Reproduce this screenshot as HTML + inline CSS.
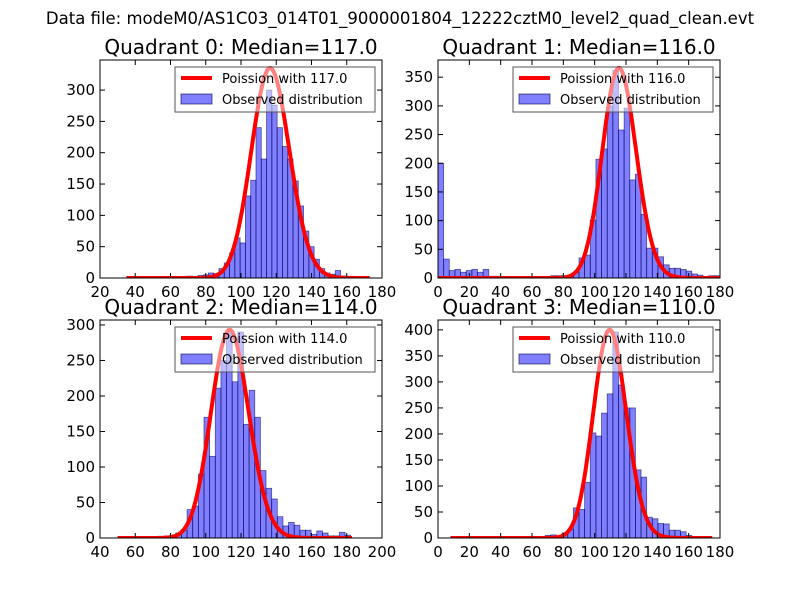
<!DOCTYPE html>
<html><head><meta charset="utf-8"><style>
body{margin:0;background:#fff}
svg text{font-family:"DejaVu Sans","Liberation Sans",sans-serif}
</style></head><body>
<svg id="fig" width="800" height="600" xmlns="http://www.w3.org/2000/svg">
<rect width="800" height="600" fill="#fff"/>
<text x="400" y="24" text-anchor="middle" font-size="16.5">Data file: modeM0/AS1C03_014T01_9000001804_12222cztM0_level2_quad_clean.evt</text>
</svg>
<script>
// ---- data ----
const q0Counts=[2,0,3,0,4,5,8,7,15,24,40,64,56,131,156,240,190,300,276,240,210,190,155,115,75,50,30,15,8,6,12,3];
const q1Counts=[200,33,13,15,10,13,15,10,15,3,3,1,1,0,2,1,0,0,0,0,4,4,4,5,10,35,40,101,207,225,300,362,258,296,171,181,111,52,52,37,23,17,17,15,12,7,5,1,4,4];
const q2Counts=[1,2,2,3,4,7,11,40,45,90,170,115,211,250,292,220,290,160,208,170,95,70,55,30,17,22,18,11,11,5,10,7,3,3,8,4];
const q3Counts=[5,6,2,10,17,58,55,107,202,196,240,277,396,294,250,250,131,117,40,37,28,27,15,15,12,5,2];
const binStart=[63.5,0,67,68.4];
const binWidth=[3,3.6,3.2,3.6];
const medians=[117,116,114,110];
const curvePeak=[335,366,293,400];
const curveRange=[[35,173],[0,180],[50,183],[8,175]];
const xTicks=[[20,40,60,80,100,120,140,160,180],[0,20,40,60,80,100,120,140,160,180],[40,60,80,100,120,140,160,180,200],[0,20,40,60,80,100,120,140,160,180]];
const yTicks=[[0,50,100,150,200,250,300],[0,50,100,150,200,250,300,350],[0,50,100,150,200,250,300],[0,50,100,150,200,250,300,350,400]];
const xLim=[[20,180],[0,180],[40,200],[0,180]];
const yMax=[348,380,307,419];
const allCounts=[q0Counts,q1Counts,q2Counts,q3Counts];
// ---- layout ----
const boxes=[[100,60,382,278],[438,60,720,278],[100,320,382,538],[438,320,720,538]];
const NS="http://www.w3.org/2000/svg";
const fig=document.getElementById('fig');
function mk(tag,attrs,parent){const e=document.createElementNS(NS,tag);for(const k in attrs)e.setAttribute(k,attrs[k]);(parent||fig).appendChild(e);return e;}
function lgam(z){const c=[76.18009172947146,-86.50532032941677,24.01409824083091,-1.231739572450155,0.1208650973866179e-2,-0.5395239384953e-5];let x=z,y=z,t=x+5.5;t-=(x+0.5)*Math.log(t);let s=1.000000000190015;for(let j=0;j<6;j++)s+=c[j]/++y;return -t+Math.log(2.5066282746310005*s/x);}
function pmf(k,l){return Math.exp(k*Math.log(l)-l-lgam(k+1));}
for(let p=0;p<4;p++){
  const [L,T,R,B]=boxes[p];
  const xs=v=>L+(v-xLim[p][0])/(xLim[p][1]-xLim[p][0])*(R-L);
  const ys=v=>B-v/yMax[p]*(B-T);
  const g=mk('g',{});
  
  
  const clipId='clip'+p;
  const cp=mk('clipPath',{id:clipId},g);mk('rect',{x:L,y:T,width:R-L,height:B-T},cp);
  const plot=mk('g',{'clip-path':'url(#'+clipId+')'},g);
  const cnt=allCounts[p];
  for(let i=0;i<cnt.length;i++){
    const x0=xs(binStart[p]+i*binWidth[p]),x1=xs(binStart[p]+(i+1)*binWidth[p]);
    const r=mk('rect',{x:x0,y:ys(cnt[i]),width:x1-x0,height:B-ys(cnt[i]),fill:'rgba(0,0,255,0.5)',stroke:'rgba(0,0,80,0.6)','stroke-width':0.8},plot);
    
    
  }
  const lam=medians[p];const sc=curvePeak[p]/pmf(Math.floor(lam),lam);
  let d='';
  for(let k=curveRange[p][0];k<=curveRange[p][1];k++){d+=(d?'L':'M')+xs(k).toFixed(1)+','+ys(pmf(k,lam)*sc).toFixed(1);}
  const curve=mk('path',{d:d,fill:'none',stroke:'#ff0000','stroke-width':4,'stroke-linejoin':'round'},plot);
  
  
  mk('rect',{x:L,y:T,width:R-L,height:B-T,fill:'none',stroke:'#000','stroke-width':1},g);
  for(const t of xTicks[p]){const x=xs(t);
    mk('line',{x1:x,y1:B,x2:x,y2:B-5,stroke:'#000'},g);mk('line',{x1:x,y1:T,x2:x,y2:T+5,stroke:'#000'},g);
    const tx=mk('text',{x:x,y:B+19,'text-anchor':'middle','font-size':15},g);tx.textContent=t;
    
    }
  for(const t of yTicks[p]){const y=ys(t);
    mk('line',{x1:L,y1:y,x2:L+5,y2:y,stroke:'#000'},g);mk('line',{x1:R,y1:y,x2:R-5,y2:y,stroke:'#000'},g);
    const ty=mk('text',{x:L-5,y:y+5,'text-anchor':'end','font-size':15},g);ty.textContent=t;
    
    }
  const ti=mk('text',{x:(L+R)/2,y:T-6,'text-anchor':'middle','font-size':20},g);
  ti.textContent='Quadrant '+p+': Median='+medians[p].toFixed(1);
  
  
  const lg=mk('g',{},g);
  
  
  const lx=L+75,ly=T+7;
  mk('rect',{x:lx,y:ly,width:200,height:45,fill:'#fff','fill-opacity':0.5,stroke:'#555','stroke-width':1},lg);
  mk('line',{x1:lx+6,y1:ly+11,x2:lx+37,y2:ly+11,stroke:'#ff0000','stroke-width':4},lg);
  const t1=mk('text',{x:lx+47,y:ly+16,'font-size':13},lg);t1.textContent='Poission with '+medians[p].toFixed(1);
  
  
  mk('rect',{x:lx+6,y:ly+27,width:31,height:10,fill:'rgba(0,0,255,0.5)',stroke:'rgba(0,0,80,0.6)'},lg);
  const t2=mk('text',{x:lx+47,y:ly+37,'font-size':13},lg);t2.textContent='Observed distribution';
  
  
}
</script>
</body></html>
